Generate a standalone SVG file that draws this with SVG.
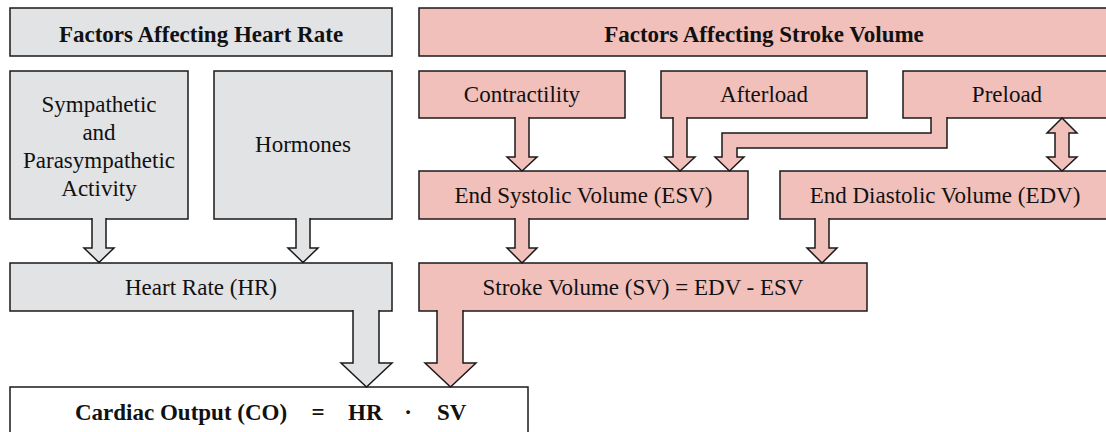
<svg xmlns="http://www.w3.org/2000/svg" width="1106" height="432" viewBox="0 0 1106 432">
<style>
.g{fill:#e2e3e5;stroke:#1a1a1a;stroke-width:1.5}
.p{fill:#f2c0bb;stroke:#1a1a1a;stroke-width:1.5}
.w{fill:#ffffff;stroke:#1a1a1a;stroke-width:1.5}
text{font-family:"Liberation Serif","Times New Roman",serif;font-size:23px;fill:#111;text-anchor:middle}
.b{font-weight:bold}
.s{text-anchor:start}
</style>
<rect width="1106" height="432" fill="#ffffff"/>
<g id="hr-header"><rect class="g" x="10" y="8" width="382" height="48"/><text class="b" x="201" y="42">Factors Affecting Heart Rate</text></g>
<g id="sv-header"><rect class="p" x="419" y="8" width="691" height="48"/><text class="b" x="764" y="42">Factors Affecting Stroke Volume</text></g>
<g id="autonomic"><rect class="g" x="10" y="71" width="178" height="148"/><text x="99" y="112">Sympathetic</text><text x="99" y="140">and</text><text x="99" y="168">Parasympathetic</text><text x="99" y="196">Activity</text></g>
<g id="hormones"><rect class="g" x="214" y="71" width="178" height="148"/><text x="303" y="152">Hormones</text></g>
<g id="contractility"><rect class="p" x="419" y="71" width="206" height="47"/><text x="522" y="102">Contractility</text></g>
<g id="afterload"><rect class="p" x="661" y="71" width="206" height="47"/><text x="764" y="102">Afterload</text></g>
<g id="preload"><rect class="p" x="903" y="71" width="207" height="47"/><text x="1007" y="102">Preload</text></g>
<g id="esv"><rect class="p" x="419" y="171" width="329" height="48"/><text x="583.5" y="203">End Systolic Volume (ESV)</text></g>
<g id="edv"><rect class="p" x="780" y="171" width="330" height="48"/><text x="945" y="203">End Diastolic Volume (EDV)</text></g>
<g id="heart-rate"><rect class="g" x="10" y="263" width="382" height="48"/><text x="201" y="295">Heart Rate (HR)</text></g>
<g id="stroke-volume"><rect class="p" x="419" y="263" width="448" height="48"/><text x="643" y="295">Stroke Volume (SV) = EDV - ESV</text></g>
<g id="cardiac-output"><rect class="w" x="10" y="387" width="518" height="50"/><text class="b s" x="75" y="420">Cardiac Output (CO)</text><text class="b" x="318" y="420">=</text><text class="b s" x="348" y="420">HR</text><text class="b" x="408" y="420">·</text><text class="b s" x="437" y="420">SV</text></g>
<g id="connectors">
<path class="g" d="M92,218 V248 H84 L99,262.5 L114,248 H106 V218"/>
<path class="g" d="M296,218 V248 H288 L303,262.5 L318,248 H310 V218"/>
<path class="p" d="M515,117 V157 H507 L522,171 L537,157 H529 V117"/>
<path class="p" d="M673,117 V157 H665 L680,171 L695,157 H687 V117"/>
<path class="p" d="M931,117 V133 H722 V157 H715 L729.5,171 L744,157 H737 V148 H947 V117"/>
<path class="p" d="M1062,118 L1077,133 H1069 V157 H1077 L1062,171 L1047,157 H1055 V133 H1047 Z"/>
<path class="p" d="M515,218 V248 H507 L522,263 L537,248 H529 V218"/>
<path class="p" d="M815,218 V248 H807 L822,263 L837,248 H829 V218"/>
<path class="g" d="M353,310 V363 H341 L366.5,387 L392,363 H379 V310"/>
<path class="p" d="M437,310 V363 H425 L450.5,387 L476,363 H463 V310"/>
</g>
</svg>
